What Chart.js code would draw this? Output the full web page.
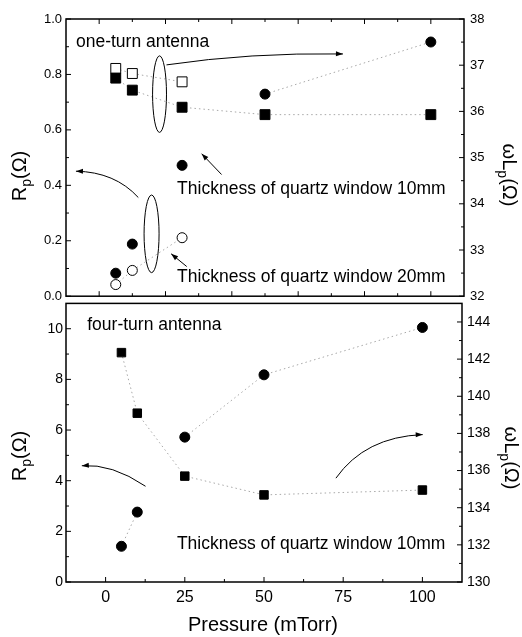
<!DOCTYPE html>
<html>
<head>
<meta charset="utf-8">
<script src="https://cdn.jsdelivr.net/npm/chart.js@4/dist/chart.umd.min.js"></script>
<style>
  html, body { margin: 0; padding: 0; background: #fff; width: 522px; height: 637px; overflow: hidden; }
  #wrap { position: relative; width: 522px; height: 637px; }
  canvas { position: absolute; left: 0; }
  #topChart { top: 0; width: 522px; height: 310px; }
  #bottomChart { top: 290px; width: 522px; height: 347px; }
</style>
</head>
<body>
<div id="wrap">
  <canvas id="topChart" width="522" height="310"></canvas>
  <canvas id="bottomChart" width="522" height="347"></canvas>
</div>
<script>
// ---- one-turn antenna (upper panel) ----
const pressureOne = [5, 10, 25, 50, 100];          // mTorr
const rp10One     = [0.083, 0.188, 0.472, 0.729, 0.917];   // Rp (Ω), 10 mm window
const wl10One     = [36.72, 36.46, 36.09, 35.93, 35.93];   // ωLp (Ω), 10 mm window
const pressure20  = [5, 10, 25];
const rp20One     = [0.042, 0.093, 0.211];                 // Rp (Ω), 20 mm window
const wl20One     = [36.93, 36.82, 36.64];                 // ωLp (Ω), 20 mm window

// ---- four-turn antenna (lower panel) ----
const pressureFour = [5, 10, 25, 50, 100];
const rpFour       = [1.41, 2.76, 5.72, 8.18, 10.05];
const wlFour       = [142.35, 139.09, 135.70, 134.69, 134.95];

// ---- tick values ----
const oneRpTicks  = [0, 0.2, 0.4, 0.6, 0.8, 1.0];
const oneRpMinor  = [0.1, 0.3, 0.5, 0.7, 0.9];
const oneWlTicks  = [32, 33, 34, 35, 36, 37, 38];
const oneWlMinor  = [32.5, 33.5, 34.5, 35.5, 36.5, 37.5];
const oneXTicks   = [0, 20, 40, 60, 80, 100];
const oneXMinor   = [10, 30, 50, 70, 90];
const fourRpTicks = [0, 2, 4, 6, 8, 10];
const fourRpMinor = [1, 3, 5, 7, 9];
const fourWlTicks = [130, 132, 134, 136, 138, 140, 142, 144];
const fourWlMinor = [131, 133, 135, 137, 139, 141, 143];
const fourXTicks  = [0, 25, 50, 75, 100];
const fourXMinor  = [12.5, 37.5, 62.5, 87.5];

const FONT = '"Liberation Sans", Arial, Helvetica, sans-serif';
const LINE_GREY = '#a8a8a8';

const pts = (xs, ys) => xs.map((x, i) => ({ x, y: ys[i] }));

// connected scatter series; `skip` lists segments (by start index) left undrawn
function series(label, xs, ys, axis, style, filled, radius, skip = []) {
  return {
    label, data: pts(xs, ys), yAxisID: axis, showLine: true,
    borderColor: LINE_GREY, borderWidth: 1, borderDash: [1.5, 3],
    segment: { borderColor: c => skip.includes(c.p0DataIndex) ? 'rgba(0,0,0,0)' : LINE_GREY },
    pointStyle: style, pointRadius: radius, pointHoverRadius: radius,
    pointBackgroundColor: filled ? '#000' : '#fff',
    pointBorderColor: '#000', pointBorderWidth: 1
  };
}

const setTicks = vals => scale => { scale.ticks = vals.map(v => ({ value: v })); };

// frame, inward tick marks, axis titles and notes
function decorations(cfg) {
  return {
    id: 'decorations',
    afterDatasetsDraw(chart) {
      const ctx = chart.ctx, a = chart.chartArea;
      const xs = chart.scales.x, ys = chart.scales.yL;
      ctx.save();
      ctx.strokeStyle = '#000';
      ctx.fillStyle = '#000';

      // frame
      ctx.lineWidth = 1.5;
      ctx.strokeRect(a.left, a.top, a.right - a.left, a.bottom - a.top);

      // tick marks
      ctx.lineWidth = 1;
      cfg.ticks.forEach(t => {
        const s = chart.scales[t.scale];
        const mark = (vals, len) => vals.forEach(v => {
          const p = s.getPixelForValue(v);
          ctx.beginPath();
          if (t.side === 'left')   { ctx.moveTo(a.left, p);  ctx.lineTo(a.left + len, p); }
          if (t.side === 'right')  { ctx.moveTo(a.right, p); ctx.lineTo(a.right - len, p); }
          if (t.side === 'bottom') { ctx.moveTo(p, a.bottom); ctx.lineTo(p, a.bottom - len); }
          if (t.side === 'top')    { ctx.moveTo(p, a.top);   ctx.lineTo(p, a.top + len); }
          ctx.stroke();
        });
        mark(t.major, 5);
        mark(t.minor, 3);
      });

      // ellipses
      ctx.lineWidth = 1;
      (cfg.ellipses || []).forEach(e => {
        const cx = xs.getPixelForValue(e.x), cy = ys.getPixelForValue(e.y);
        const rx = Math.abs(xs.getPixelForValue(e.x + e.rx) - cx);
        const ry = Math.abs(ys.getPixelForValue(e.y + e.ry) - cy);
        ctx.beginPath();
        ctx.ellipse(cx, cy, rx, ry, 0, 0, Math.PI * 2);
        ctx.stroke();
      });

      // arrows
      (cfg.arrows || []).forEach(ar => {
        const p0 = [xs.getPixelForValue(ar.from[0]), ys.getPixelForValue(ar.from[1])];
        const p2 = [xs.getPixelForValue(ar.to[0]), ys.getPixelForValue(ar.to[1])];
        const c = ar.ctrl
          ? [xs.getPixelForValue(ar.ctrl[0]), ys.getPixelForValue(ar.ctrl[1])]
          : [(p0[0] + p2[0]) / 2, (p0[1] + p2[1]) / 2];
        ctx.beginPath();
        ctx.moveTo(p0[0], p0[1]);
        ctx.quadraticCurveTo(c[0], c[1], p2[0], p2[1]);
        ctx.stroke();
        const ang = Math.atan2(p2[1] - c[1], p2[0] - c[0]);
        const L = 7, W = 2.5;
        ctx.beginPath();
        ctx.moveTo(p2[0], p2[1]);
        ctx.lineTo(p2[0] - L * Math.cos(ang) + W * Math.sin(ang), p2[1] - L * Math.sin(ang) - W * Math.cos(ang));
        ctx.lineTo(p2[0] - L * Math.cos(ang) - W * Math.sin(ang), p2[1] - L * Math.sin(ang) + W * Math.cos(ang));
        ctx.closePath();
        ctx.fill();
      });

      // notes
      ctx.textBaseline = 'alphabetic';
      ctx.textAlign = 'left';
      ctx.font = '17.5px ' + FONT;
      (cfg.notes || []).forEach(n => {
        ctx.fillText(n.text, xs.getPixelForValue(n.x), ys.getPixelForValue(n.y));
      });

      // axis titles with subscript
      cfg.titles.forEach(t => drawSubTitle(ctx, t));
      (cfg.plain || []).forEach(p => {
        ctx.font = p.font;
        ctx.textAlign = 'center';
        ctx.fillText(p.text, p.x, p.y);
      });
      ctx.restore();
    }
  };
}

function drawSubTitle(ctx, t) {
  const big = '20px ' + FONT, small = '14px ' + FONT;
  ctx.save();
  ctx.translate(t.x, t.y);
  ctx.rotate(t.angle);
  ctx.textAlign = 'left';
  ctx.textBaseline = 'alphabetic';
  ctx.font = big;   const w1 = ctx.measureText(t.main).width;
  ctx.font = small; const w2 = ctx.measureText(t.sub).width;
  ctx.font = big;   const w3 = ctx.measureText(t.rest).width;
  let x = -(w1 + w2 + w3) / 2;
  ctx.font = big;   ctx.fillText(t.main, x, 0); x += w1;
  ctx.font = small; ctx.fillText(t.sub, x, 5); x += w2;
  ctx.font = big;   ctx.fillText(t.rest, x, 0);
  ctx.restore();
}

function yAxis(pos, min, max, tickVals, fmt, size, pad, width) {
  return {
    type: 'linear', position: pos, min, max,
    grid: { display: false, drawTicks: false },
    border: { display: false },
    ticks: { color: '#000', font: { family: FONT, size }, padding: pad, callback: fmt },
    afterBuildTicks: setTicks(tickVals),
    afterFit: s => { s.width = width; }
  };
}

// ---------- upper panel ----------
new Chart(document.getElementById('topChart'), {
  type: 'scatter',
  data: {
    datasets: [
      series('Rp 10mm', pressureOne, rp10One, 'yL', 'circle', true, 5, [0, 1, 2]),
      series('Rp 20mm', pressure20, rp20One, 'yL', 'circle', false, 5),
      series('ωLp 10mm', pressureOne, wl10One, 'yR', 'rect', true, 7),
      series('ωLp 20mm', pressure20, wl20One, 'yR', 'rect', false, 7)
    ]
  },
  options: {
    responsive: false, animation: false,
    layout: { padding: { top: 19, bottom: 10, left: 0, right: 0 } },
    plugins: { legend: { display: false }, tooltip: { enabled: false } },
    scales: {
      x: { type: 'linear', min: -10, max: 110, display: false },
      yL: yAxis('left', 0, 1, oneRpTicks, v => v.toFixed(1), 13, 4, 66),
      yR: yAxis('right', 32, 38, oneWlTicks, v => String(v), 13, 6, 58)
    }
  },
  plugins: [decorations({
    ticks: [
      { scale: 'yL', side: 'left', major: oneRpTicks, minor: oneRpMinor },
      { scale: 'yR', side: 'right', major: oneWlTicks, minor: oneWlMinor },
      { scale: 'x', side: 'bottom', major: oneXTicks, minor: oneXMinor },
      { scale: 'x', side: 'top', major: oneXTicks, minor: oneXMinor }
    ],
    ellipses: [
      { x: 18.2, y: 0.729, rx: 2.1, ry: 0.138 },
      { x: 15.8, y: 0.225, rx: 2.26, ry: 0.14 }
    ],
    arrows: [
      { from: [20.3, 0.8345], ctrl: [45.3, 0.879], to: [73.5, 0.874] },
      { from: [11.8, 0.356], ctrl: [4.8, 0.448], to: [-7, 0.451] },
      { from: [36.9, 0.439], to: [30.9, 0.514] },
      { from: [26.4, 0.107], to: [21.7, 0.153] }
    ],
    notes: [
      { text: 'one-turn antenna', x: -7.0, y: 0.9 },
      { text: 'Thickness of quartz window 10mm', x: 23.5, y: 0.367 },
      { text: 'Thickness of quartz window 20mm', x: 23.5, y: 0.05 }
    ],
    titles: [
      { main: 'R', sub: 'p', rest: '(Ω)', x: 26, y: 176, angle: -Math.PI / 2 },
      { main: 'ωL', sub: 'p', rest: '(Ω)', x: 503, y: 175, angle: Math.PI / 2 }
    ]
  })]
});

// ---------- lower panel ----------
new Chart(document.getElementById('bottomChart'), {
  type: 'scatter',
  data: {
    datasets: [
      series('Rp', pressureFour, rpFour, 'yL', 'circle', true, 5, [1]),
      series('ωLp', pressureFour, wlFour, 'yR', 'rect', true, 6)
    ]
  },
  options: {
    responsive: false, animation: false,
    layout: { padding: { top: 10, bottom: 0, left: 0, right: 0 } },
    plugins: { legend: { display: false }, tooltip: { enabled: false } },
    scales: {
      x: {
        type: 'linear', min: -12.5, max: 112.5, position: 'bottom',
        grid: { display: false, drawTicks: false },
        border: { display: false },
        ticks: { color: '#000', font: { family: FONT, size: 16 }, padding: 6, maxRotation: 0 },
        afterBuildTicks: setTicks(fourXTicks),
        afterFit: s => { s.height = 55; }
      },
      yL: yAxis('left', 0, 11, fourRpTicks, v => String(v), 14, 3, 66),
      yR: yAxis('right', 130, 145, fourWlTicks, v => String(v), 14, 5, 60)
    }
  },
  plugins: [decorations({
    ticks: [
      { scale: 'yL', side: 'left', major: fourRpTicks, minor: fourRpMinor },
      { scale: 'yR', side: 'right', major: fourWlTicks, minor: fourWlMinor },
      { scale: 'x', side: 'bottom', major: fourXTicks, minor: fourXMinor }
    ],
    arrows: [
      { from: [12.6, 3.78], ctrl: [2.0, 4.68], to: [-7.5, 4.59] },
      { from: [72.7, 4.1], ctrl: [81.9, 5.73], to: [100.1, 5.82] }
    ],
    notes: [
      { text: 'four-turn antenna', x: -5.8, y: 9.95 },
      { text: 'Thickness of quartz window 10mm', x: 22.5, y: 1.29 }
    ],
    titles: [
      { main: 'R', sub: 'p', rest: '(Ω)', x: 26, y: 166, angle: -Math.PI / 2 },
      { main: 'ωL', sub: 'p', rest: '(Ω)', x: 505, y: 168, angle: Math.PI / 2 }
    ],
    plain: [
      { text: 'Pressure (mTorr)', x: 263, y: 341, font: '20px ' + FONT }
    ]
  })]
});
</script>
</body>
</html>
